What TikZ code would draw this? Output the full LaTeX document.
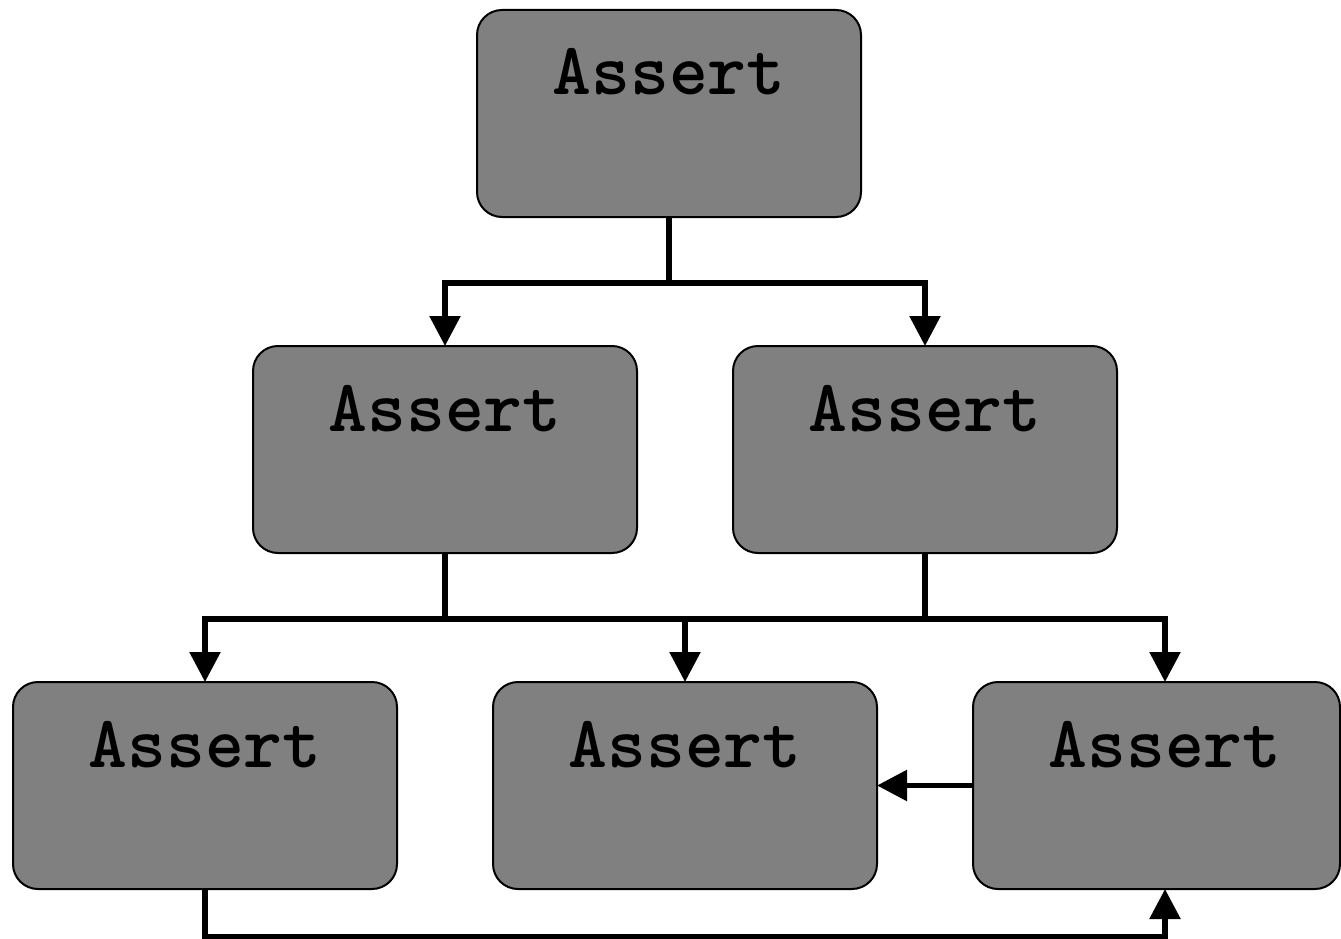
\documentclass[tikz,border=0pt]{standalone}
\usepackage{fontspec}
\usetikzlibrary{arrows.meta,calc}

\definecolor{boxgray}{RGB}{128,128,128}
\tikzset{
  box/.style={draw=black, line width=2pt, fill=boxgray, rounded corners=25pt,
    minimum width=384pt, minimum height=207pt, inner sep=0pt, outer sep=0pt,
    anchor=north west},
  narrowbox/.style={box, minimum width=367pt},
  title/.style={anchor=base, font=\fontsize{74}{80}\selectfont\ttfamily\bfseries, inner sep=0pt},
  link/.style={draw=black, line width=5.5pt},
  arr/.style={link, -{Triangle[width=30pt,length=30pt]}},
}

\begin{document}
\begin{tikzpicture}[x=1pt,y=-1pt]
  \useasboundingbox (0,0) rectangle (1341,939);

  % boxes, placed by their top-left corners
  \node[box] (b1) at (477,10) {};
  \node[box] (b2) at (253,346) {};
  \node[box] (b3) at (733,346) {};
  \node[box] (b4) at (13,682) {};
  \node[box] (b5) at (493,682) {};
  \node[narrowbox] (b6) at (973,682) {};

  % captions
  \node[title] (t1) at ($(b1.north)+(0,85)$) {Assert};
  \node[title] (t2) at ($(b2.north)+(0,85)$) {Assert};
  \node[title] (t3) at ($(b3.north)+(0,85)$) {Assert};
  \node[title] (t4) at ($(b4.north)+(0,85)$) {Assert};
  \node[title] (t5) at ($(b5.north)+(0,85)$) {Assert};
  \node[title] (t6) at ($(b6.north west)+(192,85)$) {Assert};

  % junction points
  \coordinate (j1) at ($(b1.south)+(0,66)$);
  \coordinate (j2) at ($(b2.south)+(0,66)$);
  \coordinate (j3) at ($(b3.south)+(0,66)$);
  \coordinate (b6top) at ($(b6.north west)+(192,0)$);
  \coordinate (b6bot) at ($(b6.south west)+(192,0)$);
  \coordinate (low) at ($(b4.south)+(0,48)$);

  % first level
  \draw[link] (b1.south) -- (j1);
  \draw[arr] (j1) -| (b2.north);
  \draw[arr] (j1) -| (b3.north);

  % second level
  \draw[link] (b2.south) -- (j2);
  \draw[link] (b3.south) -- (j3);
  \draw[link] (j2) -- (j3);
  \draw[arr] (j2) -| (b4.north);
  \draw[arr] (b5.north |- j2) -- (b5.north);
  \draw[arr] (j3) -| (b6top);

  % bottom row links
  \draw[arr] (b6.west |- b5.east) -- (b5.east);
  \draw[arr] (b4.south) -- (low) -| (b6bot);
\end{tikzpicture}
\end{document}
